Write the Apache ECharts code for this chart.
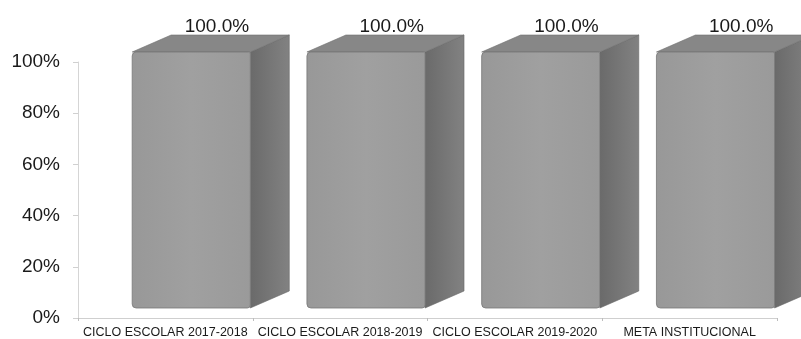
<!DOCTYPE html>
<html>
<head>
<meta charset="utf-8">
<script src="https://cdn.jsdelivr.net/npm/echarts@6/dist/echarts.min.js"></script>
<style>
html,body{margin:0;padding:0;background:#fff;}
#chart{width:801px;height:339px;}
</style>
</head>
<body>
<div id="chart"></div>
<script>
const categories = ['CICLO ESCOLAR 2017-2018', 'CICLO ESCOLAR 2018-2019', 'CICLO ESCOLAR 2019-2020', 'META INSTITUCIONAL'];
const values = [1.0, 1.0, 1.0, 1.0];
const yMin = 0, yMax = 1, yStep = 0.2;

const chart = echarts.init(document.getElementById('chart'), null, {renderer: 'canvas'});

function renderBar(params, api) {
  const idx = api.value(0);
  const v = api.value(1);
  const top = api.coord([idx, v]);
  const bot = api.coord([idx, 0]);
  const bw = api.size([1, 0])[0];
  const lift = 10;
  const fl = top[0] - bw * 0.19;
  const fr = top[0] + bw * 0.486;
  const dx = bw * 0.223;
  const dy = -17;
  const ty = top[1] - lift;
  const by = bot[1] - lift;
  return {
    type: 'group',
    children: [
      {
        type: 'polygon',
        shape: {points: [[fr, ty], [fr + dx, ty + dy], [fr + dx, by + dy], [fr, by]]},
        style: {fill: new echarts.graphic.LinearGradient(0, 0, 1, 0, [
          {offset: 0, color: '#6a6a6a'}, {offset: 1, color: '#828282'}]), stroke: '#666', lineWidth: 0.6}
      },
      {
        type: 'polygon',
        shape: {points: [[fl, ty], [fl + dx, ty + dy], [fr + dx, ty + dy], [fr, ty]]},
        style: {fill: '#878787', stroke: '#6f6f6f', lineWidth: 0.6}
      },
      {
        type: 'rect',
        shape: {x: fl, y: ty, width: fr - fl, height: by - ty, r: [4, 2, 3, 4]},
        style: {fill: new echarts.graphic.LinearGradient(0, 0, 1, 0, [
          {offset: 0, color: '#989898'}, {offset: 0.5, color: '#a0a0a0'}, {offset: 1, color: '#9a9a9a'}]), stroke: '#777', lineWidth: 0.8}
      },
      {
        type: 'text',
        style: {
          text: (v * 100).toFixed(1) + '%',
          x: top[0] + bw * 0.295, y: ty + dy - 8,
          align: 'center', verticalAlign: 'middle',
          font: '19px "Liberation Sans", Arial, sans-serif', fill: '#1a1a1a'
        }
      }
    ]
  };
}

chart.setOption({
  animation: false,
  backgroundColor: '#ffffff',
  grid: {left: 78, right: 24, top: 62, bottom: 21, containLabel: false},
  xAxis: {
    type: 'category',
    data: categories,
    boundaryGap: true,
    axisLine: {show: true, lineStyle: {color: '#cfcfcf', width: 1}},
    axisTick: {show: true, alignWithLabel: false, length: 3, lineStyle: {color: '#bdbdbd'}},
    axisLabel: {
      interval: 0, margin: 8, color: '#1a1a1a',
      fontFamily: '"Liberation Sans", Arial, sans-serif', fontSize: 12.5
    }
  },
  yAxis: {
    type: 'value',
    min: yMin, max: yMax, interval: yStep,
    axisLine: {show: true, lineStyle: {color: '#d5d5d5', width: 1}},
    axisTick: {show: true, length: 5, lineStyle: {color: '#d0d0d0'}},
    splitLine: {show: false},
    axisLabel: {
      margin: 18, color: '#1a1a1a',
      fontFamily: '"Liberation Sans", Arial, sans-serif', fontSize: 19,
      formatter: function (v) { return Math.round(v * 100) + '%'; }
    }
  },
  series: [{
    type: 'custom',
    clip: false,
    renderItem: renderBar,
    encode: {x: 0, y: 1},
    data: values.map(function (v, i) { return [i, v]; })
  }]
});
</script>
</body>
</html>
